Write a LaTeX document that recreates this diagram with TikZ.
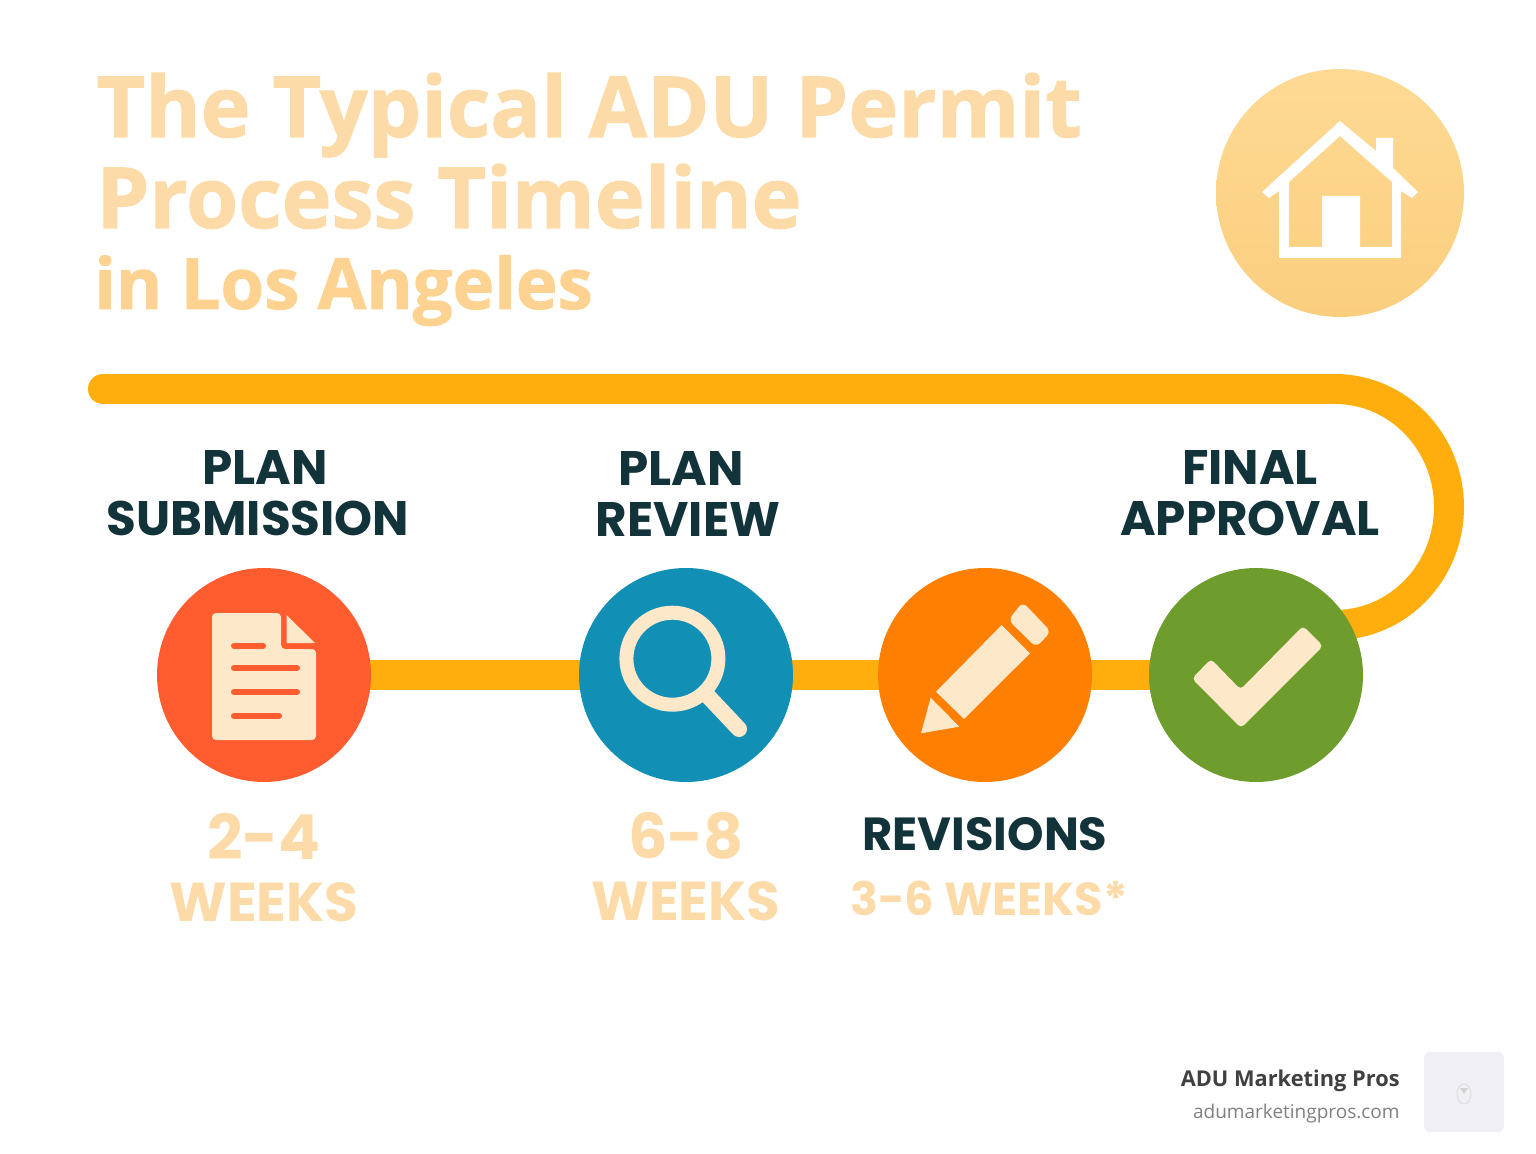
\documentclass[tikz,border=0pt]{standalone}
\usepackage{fontspec}
\setmainfont{Liberation Sans}
\newfontfamily\labelfont{Poppins}
\newfontfamily\titlefont[BoldFeatures={FakeBold=1.2}]{Open Sans}
\newfontfamily\footfont{Open Sans}
\usetikzlibrary{backgrounds,positioning}
\definecolor{roadcol}{HTML}{FFAE0D}
\definecolor{inkcol}{HTML}{12333A}
\definecolor{palecol}{HTML}{FDDBA8}
\definecolor{deepcol}{HTML}{FED392}
\definecolor{creamcol}{HTML}{FDE8C9}
\definecolor{sealtop}{HTML}{FEDA94}
\definecolor{sealbot}{HTML}{FBCE7E}
\definecolor{plancol}{HTML}{FF5C2F}
\definecolor{reviewcol}{HTML}{128FB5}
\definecolor{revisecol}{HTML}{FF7F02}
\definecolor{finalcol}{HTML}{6F9D2D}
\definecolor{logocol}{HTML}{EFEFF4}
\tikzset{
  road/.style={draw=roadcol,line width=15pt},
  stage/.style={circle,minimum size=107pt,inner sep=0pt},
  head/.style={font=\labelfont\bfseries\fontsize{24.2}{25.5}\selectfont,text=inkcol,align=center,inner sep=0pt},
  span/.style={font=\labelfont\bfseries\fontsize{27.4}{31}\selectfont,text=palecol,align=center,inner sep=0pt},
  titleline/.style={anchor=base west,inner sep=0pt,text=palecol,font=\titlefont\bfseries\fontsize{42.2}{46}\selectfont},
  icon/.style={fill=creamcol,rounded corners=2pt},
  docline/.style={draw=plancol,line width=3pt,line cap=round}
}
\begin{document}
\begin{tikzpicture}[x=0.5pt,y=-0.5pt]
\useasboundingbox (0,0) rectangle (1536,1154);

\node[titleline] (titlea) at (96,137) {The Typical ADU Permit};
\node[titleline] (titleb) at (96,228) {Process Timeline};
\node[titleline,font=\titlefont\bfseries\fontsize{35.3}{38}\selectfont,text=deepcol] (titlec) at (94,309) {in Los Angeles};

% house seal
\node[circle,top color=sealtop,bottom color=sealbot,minimum size=124pt,inner sep=0pt] (seal) at (1340,193) {};
\fill[white,even odd rule] (1340,121) -- (1376,151) -- (1376,138) -- (1393,138) -- (1393,168) -- (1418,192)
	-- (1412,198) -- (1401,191) -- (1401,258) -- (1279,258) -- (1279,191) -- (1269,198) -- (1262,192) -- cycle
	(1340,136) -- (1392,182) -- (1392,247) -- (1360,247) -- (1360,196) -- (1322,196) -- (1322,247) -- (1289,247) -- (1289,182) -- cycle;

% the four stages
\node[stage,fill=plancol] (plan) at (264,675) {};
\node[stage,fill=reviewcol] (review) at (686,675) {};
\node[stage,fill=revisecol] (revise) at (985,675) {};
\node[stage,fill=finalcol] (final) at (1256,675) {};

\begin{pgfonlayer}{background}
\coordinate (roadstart) at (103,389);
\coordinate (roadturn) at (1335,389);
\draw[road,line cap=round] (roadstart) -- (roadturn);
\draw[road] (roadturn) arc[start angle=-90,end angle=85,x radius=114,y radius=118] -- (final.center);
\draw[road] (plan.center) -- (review.center);
\draw[road] (review.center) -- (revise.center);
\draw[road] (revise.center) -- (final.center);
\end{pgfonlayer}

% document
\fill[icon] (212,613) -- (281,613) -- (281,649) -- (316,649) -- (316,740) -- (212,740) -- cycle;
\fill[creamcol] (286.5,615) -- (315,643) -- (286.5,643) -- cycle;
\foreach \y/\xend in {645.7/263,668/297,692/297,715.7/279}
	\draw[docline] (234,\y) -- (\xend,\y);

% magnifier
\draw[creamcol,line width=7pt] (672.4,658.7) circle[radius=46];
\draw[creamcol,line width=8pt,line cap=round] (706,694) -- (739,729);

% pencil
\fill[creamcol] (1001.7,625) -- (1030,653.3) -- (964,719) -- (936,691.7) -- cycle;
\fill[icon,rounded corners=3pt] (1008.3,620) -- (1022.7,602) -- (1051,631.7) -- (1036,647.3) -- cycle;
\fill[creamcol] (930.7,697.7) -- (959.3,726.7) -- (921,733.3) -- cycle;

% check
\fill[icon] (1192,678.5) -- (1211,659) -- (1240.5,689.5) -- (1303,626) -- (1323,646) -- (1241,728) -- cycle;

\node[head,above=15.5pt of plan,xshift=-3pt] (planhead) {\hspace*{7pt}PLAN\\SUBMISSION};
\node[head,above=15.5pt of review,xshift=1pt] (reviewhead) {PLAN\hspace*{7pt}\\REVIEW};
\node[head,above=15.5pt of final,xshift=-3pt] (finalhead) {FINAL\\APPROVAL};
\node[span,below=15pt of plan] (planspan) {\fontsize{31}{31}\selectfont 2-4\\WEEKS};
\node[span,below=15pt of review] (reviewspan) {\fontsize{31}{31}\selectfont 6-8\\WEEKS};
\node[head,font=\labelfont\bfseries\fontsize{23.2}{25}\selectfont,below=17.5pt of revise] (revisehead) {REVISIONS};
\node[span,font=\labelfont\bfseries\fontsize{23.1}{26}\selectfont,below=14.5pt of revisehead,xshift=2pt] (revisespan) {3-6 WEEKS*};

% footer
\node[anchor=base east,inner sep=0pt,text=black!75,font=\footfont\bfseries\fontsize{10.9}{13}\selectfont] (brand) at (1400,1086) {ADU Marketing Pros};
\node[anchor=base east,inner sep=0pt,text=black!50,font=\footfont\fontsize{9.5}{12}\selectfont] (site) at (1400,1118) {adumarketingpros.com};
\node[fill=logocol,rounded corners=3pt,minimum size=40pt,inner sep=0pt] (logo) at (1464,1092) {};
\draw[black!14,line width=0.4pt] (1464,1094) ellipse[x radius=7,y radius=10];
\fill[black!18] (1460,1088) -- (1468,1088) -- (1464,1094) -- cycle;
\end{tikzpicture}
\end{document}
